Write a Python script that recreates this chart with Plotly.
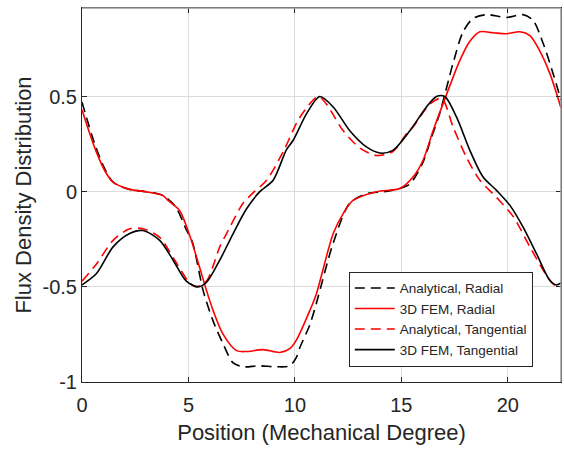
import plotly.graph_objects as go

# Analytical, Radial
x_ar = [0, 0.6, 1.07, 1.46, 2.24, 3.0, 3.8, 4.4, 4.9, 5.2, 5.69, 6.16, 6.63, 7.1, 7.57, 8.3, 9.13, 9.76, 10.07, 10.23, 10.7, 11.0, 11.8, 12.58, 13.4, 14.2, 14.93, 15.4, 16.0, 16.4, 16.8, 17.43, 17.9, 18.37, 19.0, 19.94, 20.72, 21.19, 21.66, 22.13, 22.5]
y_ar = [0.47, 0.25, 0.12, 0.05, 0.012, 0.0, -0.02, -0.08, -0.2, -0.27, -0.52, -0.68, -0.80, -0.90, -0.92, -0.915, -0.92, -0.915, -0.87, -0.82, -0.70, -0.59, -0.27, -0.06, -0.01, 0.0, 0.017, 0.04, 0.15, 0.28, 0.41, 0.675, 0.84, 0.91, 0.93, 0.915, 0.93, 0.90, 0.78, 0.62, 0.48]

# 3D FEM, Radial
x_fr = [0, 0.6, 1.07, 1.46, 2.24, 3.0, 3.8, 4.04, 4.59, 5.06, 5.53, 5.85, 6.16, 6.63, 7.26, 7.7, 8.5, 9.29, 9.76, 10.07, 10.7, 11.0, 11.8, 12.27, 12.73, 13.83, 14.93, 15.55, 16.02, 16.49, 17.12, 17.75, 18.22, 18.69, 19.31, 19.94, 20.57, 21.04, 21.5, 21.98, 22.5]
y_fr = [0.43, 0.23, 0.11, 0.05, 0.012, 0.0, -0.02, -0.046, -0.10, -0.23, -0.40, -0.52, -0.625, -0.75, -0.835, -0.84, -0.83, -0.845, -0.825, -0.78, -0.625, -0.54, -0.22, -0.115, -0.046, 0.0, 0.017, 0.077, 0.165, 0.32, 0.51, 0.69, 0.79, 0.84, 0.835, 0.83, 0.84, 0.82, 0.74, 0.62, 0.44]

# Analytical, Tangential
x_at = [0, 0.68, 1.46, 2.24, 2.87, 3.65, 4.3, 5.06, 5.37, 5.85, 6.16, 6.47, 6.79, 7.57, 8.0, 8.67, 9.45, 10.23, 11.1, 11.48, 12.27, 13.05, 13.83, 14.6, 15.25, 15.55, 16.34, 16.89, 17.43, 18.06, 18.69, 19.47, 20.25, 21.04, 21.82, 22.2, 22.5]
y_at = [-0.47, -0.38, -0.256, -0.195, -0.195, -0.24, -0.35, -0.48, -0.50, -0.47, -0.39, -0.29, -0.22, -0.06, -0.01, 0.06, 0.21, 0.39, 0.50, 0.46, 0.32, 0.23, 0.19, 0.21, 0.305, 0.34, 0.46, 0.49, 0.34, 0.18, 0.06, -0.03, -0.13, -0.29, -0.44, -0.49, -0.48]

# 3D FEM, Tangential
x_ft = [0, 0.68, 1.46, 2.24, 2.87, 3.65, 4.28, 4.9, 5.45, 5.85, 6.47, 7.1, 7.73, 8.35, 8.98, 9.6, 9.92, 10.55, 11.17, 11.8, 12.58, 13.36, 13.99, 14.6, 15.4, 16.18, 16.65, 17.04, 17.6, 18.22, 18.84, 19.47, 20.1, 20.72, 21.35, 21.98, 22.29, 22.5]
y_ft = [-0.49, -0.43, -0.29, -0.22, -0.204, -0.256, -0.36, -0.47, -0.50, -0.476, -0.36, -0.22, -0.09, 0.0, 0.06, 0.22, 0.27, 0.41, 0.50, 0.445, 0.32, 0.235, 0.203, 0.217, 0.32, 0.445, 0.50, 0.50, 0.39, 0.217, 0.077, 0.007, -0.072, -0.186, -0.326, -0.467, -0.49, -0.48]

x_ticks = [0, 5, 10, 15, 20]
x_tick_labels = ["0", "5", "10", "15", "20"]
y_ticks = [-1, -0.5, 0, 0.5]
y_tick_labels = ["-1", "-0.5", "0", "0.5"]

FONT = "Liberation Sans, Arial, sans-serif"
TXT = "#262626"

fig = go.Figure()
series = [
    (x_ar, y_ar, "Analytical, Radial", "#000000", "10px,6px"),
    (x_fr, y_fr, "3D FEM, Radial", "#ff0000", "solid"),
    (x_at, y_at, "Analytical, Tangential", "#ff0000", "10px,6px"),
    (x_ft, y_ft, "3D FEM, Tangential", "#000000", "solid"),
]
for xs, ys, name, col, dash in series:
    fig.add_trace(go.Scatter(
        x=xs, y=ys, mode="lines", name=name,
        line=dict(color=col, width=1.6, dash=dash, shape="spline", smoothing=0.8),
    ))

fig.update_layout(
    width=564, height=451,
    margin=dict(l=82, r=3, t=8, b=69),
    paper_bgcolor="white", plot_bgcolor="white",
    font=dict(family=FONT, color=TXT, size=20),
    showlegend=True,
    legend=dict(
        x=0.557, y=0.295, xanchor="left", yanchor="top",
        bgcolor="white", bordercolor="#262626", borderwidth=1,
        font=dict(family=FONT, size=13.5, color=TXT),
        tracegroupgap=0, itemwidth=40,
    ),
    xaxis=dict(
        range=[0, 22.5], tickvals=x_ticks, ticktext=x_tick_labels,
        showgrid=True, gridcolor="#dcdcdc", gridwidth=1,
        showline=True, linecolor="#262626", linewidth=1, mirror="ticks",
        ticks="inside", ticklen=5, tickcolor="#262626",
        ticklabelstandoff=5,
        zeroline=False,
        title=dict(text="Position (Mechanical Degree)", font=dict(size=22), standoff=9),
        tickfont=dict(size=20),
    ),
    yaxis=dict(
        range=[-1, 0.965], tickvals=y_ticks, ticktext=y_tick_labels,
        showgrid=True, gridcolor="#dcdcdc", gridwidth=1,
        showline=True, linecolor="#262626", linewidth=1, mirror="ticks",
        ticks="inside", ticklen=5, tickcolor="#262626",
        zeroline=False,
        title=dict(text="Flux Density Distribution", font=dict(size=22), standoff=4),
        tickfont=dict(size=20),
    ),
)
fig.add_shape(type="line", xref="paper", yref="paper", x0=0, x1=1, y0=1, y1=1,
              line=dict(color="#9a9a9a", width=1.5), layer="above")
fig.add_shape(type="line", xref="paper", yref="paper", x0=1, x1=1, y0=0, y1=1,
              line=dict(color="#9a9a9a", width=1.5), layer="above")

fig.write_html("out.html")
